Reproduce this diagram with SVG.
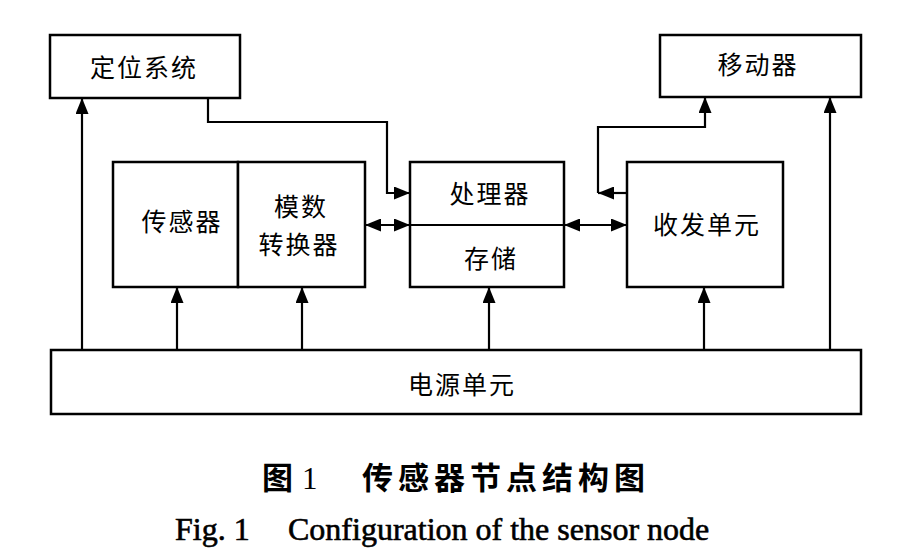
<svg xmlns="http://www.w3.org/2000/svg" width="902" height="560" viewBox="0 0 902 560">
<defs>
<marker id="ah" viewBox="0 0 16 13" refX="16" refY="6.5" markerWidth="16" markerHeight="13" markerUnits="userSpaceOnUse" orient="auto-start-reverse">
<path d="M0,0 L16,6.5 L0,13 z" fill="#000"/>
</marker>
<style>
.box{fill:#fff;stroke:#000;stroke-width:2.5}
.lbl{font-family:"Noto Sans CJK SC","Noto Sans CJK JP",sans-serif;font-size:25px;fill:#000;text-anchor:middle;dominant-baseline:central;letter-spacing:2px}
.con{fill:none;stroke:#000;stroke-width:2.2}
.cap{font-family:"Noto Sans CJK SC",sans-serif;font-weight:bold;font-size:31px;fill:#000}
.en{font-family:"Liberation Serif","Times New Roman",serif;font-size:32px;fill:#000;stroke:#000;stroke-width:0.6}
</style>
</defs>
<rect width="902" height="560" fill="#fff"/>

<g id="connectors">
<path class="con" d="M82,350 V98" marker-end="url(#ah)"/>
<path class="con" d="M177,350 V287" marker-end="url(#ah)"/>
<path class="con" d="M302,350 V287" marker-end="url(#ah)"/>
<path class="con" d="M489,350 V287" marker-end="url(#ah)"/>
<path class="con" d="M704,350 V287" marker-end="url(#ah)"/>
<path class="con" d="M830,350 V97" marker-end="url(#ah)"/>
<path class="con" d="M208,98 V122 H387 V193 H410" marker-end="url(#ah)"/>
<path class="con" d="M365,225 H410" marker-start="url(#ah)" marker-end="url(#ah)"/>
<path class="con" d="M564,225 H627" marker-start="url(#ah)" marker-end="url(#ah)"/>
<path class="con" d="M627,193 H598" marker-end="url(#ah)"/>
<path class="con" d="M598,193 V127 H705 V97" marker-end="url(#ah)"/>
</g>

<g id="positioning">
<rect class="box" x="50" y="35" width="190" height="63"/>
<text class="lbl" x="144" y="66">定位系统</text>
</g>
<g id="mover">
<rect class="box" x="660" y="35" width="201" height="62"/>
<text class="lbl" x="758" y="63">移动器</text>
</g>
<g id="sensor">
<rect class="box" x="113" y="162" width="125" height="125"/>
<text class="lbl" x="182" y="220">传感器</text>
</g>
<g id="adc">
<rect class="box" x="238" y="162" width="127" height="125"/>
<text class="lbl" x="301" y="205">模数</text>
<text class="lbl" x="299" y="243">转换器</text>
</g>
<g id="processor">
<rect class="box" x="410" y="162" width="154" height="125"/>
<line x1="410" y1="225" x2="564" y2="225" stroke="#000" stroke-width="2"/>
<text class="lbl" x="490" y="192">处理器</text>
<text class="lbl" x="491" y="257">存储</text>
</g>
<g id="transceiver">
<rect class="box" x="627" y="162" width="156" height="125"/>
<text class="lbl" x="707" y="223">收发单元</text>
</g>
<g id="power">
<rect class="box" x="51" y="350" width="810" height="64"/>
<text class="lbl" x="462" y="383">电源单元</text>
</g>

<g id="caption">
<text class="cap" x="262" y="489">图</text>
<text x="302" y="489" style="font-family:'Liberation Serif',serif;font-size:31px;fill:#000">1</text>
<text class="cap" x="362" y="489" letter-spacing="5">传感器节点结构图</text>
<text class="en" x="175" y="540">Fig. 1</text>
<text class="en" x="288" y="540">Configuration of the sensor node</text>
</g>
</svg>
